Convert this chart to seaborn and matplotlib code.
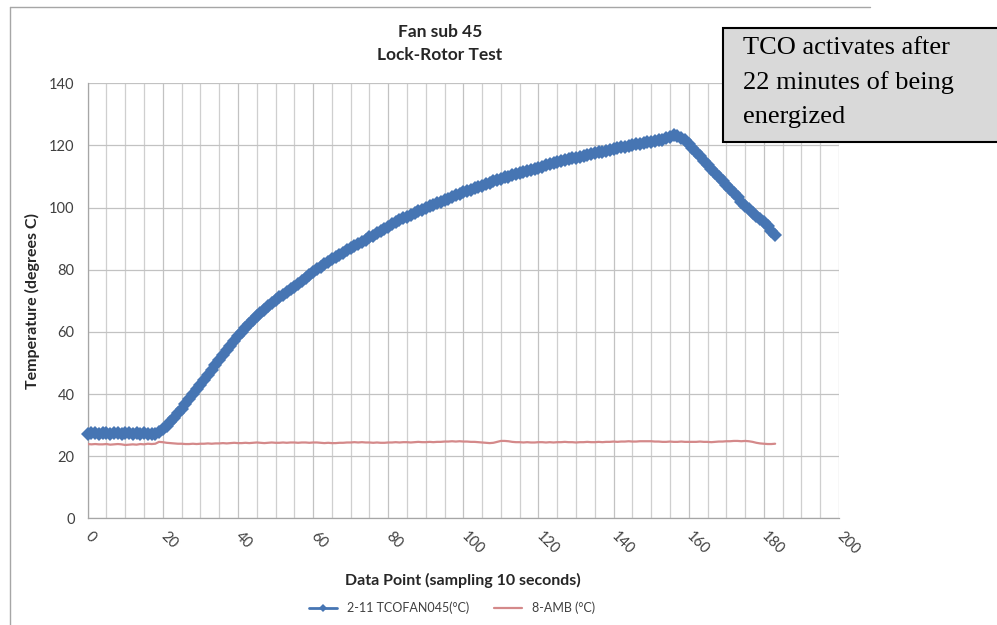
import pandas as pd
import seaborn as sns
import matplotlib.pyplot as plt
from matplotlib.lines import Line2D
from matplotlib.patches import Rectangle

# Data (one sample every 10 s)
data_point = list(range(184))

tco_fan = [
    27.2, 27.4, 27.3, 27.1, 27.3, 27.4, 27.2, 27.3, 27.3, 27.2, 27.4, 27.3, 27.2, 27.3, 27.1, 27.3, 27.2, 27.0, 27.2,
    27.8, 28.7, 29.8, 31.0, 32.3, 33.8, 35.3, 36.8, 38.4, 39.9, 41.5, 43.0,
    44.5, 46.1, 47.7, 49.3, 50.9, 52.5, 54.1, 55.6, 57.1, 58.6,
    59.9, 61.2, 62.5, 63.8, 65.0, 66.1, 67.1, 68.2, 69.2, 70.1,
    71.1, 72.0, 72.9, 73.8, 74.6, 75.4, 76.3, 77.3, 78.3, 79.3,
    80.1, 80.9, 81.7, 82.5, 83.4, 84.1, 84.8, 85.5, 86.2, 86.9,
    87.6, 88.3, 89.0, 89.7, 90.4, 91.0, 91.7, 92.5, 93.2, 93.9,
    94.6, 95.2, 95.9, 96.5, 97.1, 97.7, 98.3, 98.8, 99.3, 99.9,
    100.4, 100.9, 101.4, 101.9, 102.4, 102.9, 103.4, 103.9, 104.4, 104.9,
    105.3, 105.8, 106.2, 106.7, 107.1, 107.6, 108.0, 108.4, 108.9, 109.3,
    109.7, 110.0, 110.4, 110.8, 111.1, 111.5, 111.8, 112.2, 112.5, 112.9,
    113.2, 113.6, 113.9, 114.3, 114.6, 115.0, 115.3, 115.6, 115.9, 116.1,
    116.4, 116.7, 116.9, 117.2, 117.5, 117.8, 118.0, 118.3, 118.6, 118.8,
    119.1, 119.4, 119.6, 119.9, 120.2, 120.4, 120.6, 120.8, 121.0, 121.2,
    121.4, 121.6, 121.9, 122.3, 122.8, 123.2, 122.9, 122.3, 121.6, 120.5,
    119.2, 117.8, 116.5, 115.1, 113.8, 112.4, 111.0, 109.8, 108.6, 107.4,
    106.1, 104.7, 103.3, 101.8, 100.6, 99.5, 98.3, 97.3, 96.2, 95.2,
    94.0, 92.5, 91.1,
]

amb = [
    23.9, 23.8, 23.9, 23.8, 23.8, 23.9, 23.7, 23.8, 23.9, 23.8, 23.6, 23.7, 23.8, 23.7, 23.9, 23.8, 24.0, 23.9, 24.0,
    24.6, 24.5, 24.3, 24.2, 24.1, 24.0, 24.0, 23.9, 23.9, 24.0, 23.9, 24.0,
    24.0, 24.1, 24.0, 24.1, 24.1, 24.2, 24.1, 24.2, 24.3, 24.2,
    24.2, 24.3, 24.2, 24.3, 24.4, 24.3, 24.2, 24.3, 24.4, 24.3,
    24.3, 24.4, 24.3, 24.4, 24.4, 24.3, 24.4, 24.4, 24.3, 24.4,
    24.4, 24.3, 24.2, 24.3, 24.2, 24.2, 24.3, 24.3, 24.4, 24.4,
    24.5, 24.4, 24.5, 24.4, 24.4, 24.3, 24.4, 24.3, 24.3, 24.4,
    24.4, 24.5, 24.4, 24.5, 24.5, 24.4, 24.5, 24.6, 24.5, 24.5,
    24.6, 24.5, 24.6, 24.6, 24.7, 24.7, 24.8, 24.7, 24.8, 24.7,
    24.7, 24.6, 24.6, 24.5, 24.4, 24.3, 24.2, 24.3, 24.6, 24.9,
    24.9, 24.8, 24.6, 24.5, 24.5, 24.4, 24.5, 24.4, 24.4, 24.5,
    24.5, 24.4, 24.5, 24.4, 24.5, 24.5, 24.6, 24.5, 24.5, 24.4,
    24.5, 24.5, 24.6, 24.5, 24.5, 24.6, 24.5, 24.6, 24.6, 24.7,
    24.6, 24.7, 24.7, 24.8, 24.7, 24.7, 24.8, 24.8, 24.8, 24.8,
    24.7, 24.7, 24.6, 24.6, 24.7, 24.6, 24.6, 24.7, 24.6, 24.6,
    24.6, 24.6, 24.7, 24.6, 24.6, 24.5, 24.6, 24.7, 24.7, 24.8,
    24.8, 24.9, 24.9, 24.8, 24.9, 24.8, 24.6, 24.3, 24.1, 24.0,
    23.9, 23.9, 24.0,
]

series_names = ['2-11 TCOFAN045(°C)', '8-AMB (°C)']
x_ticks = list(range(0, 201, 20))
y_ticks = list(range(0, 141, 20))

df = pd.DataFrame({'Data Point': data_point, series_names[0]: tco_fan, series_names[1]: amb})

sns.set_style('white')
plt.rcParams['font.family'] = ['Lato', 'DejaVu Sans']

W, H = 997, 625
fig = plt.figure(figsize=(W / 100, H / 100), dpi=100)
ax = fig.add_axes([87.7 / W, 1 - 518.3 / H, (839 - 87.7) / W, (518.3 - 83.3) / H])

sns.lineplot(data=df, x='Data Point', y=series_names[0], ax=ax, color='#4675b3', lw=2,
             marker='D', markersize=7, markeredgewidth=0, label=series_names[0], clip_on=False, zorder=4)
sns.lineplot(data=df, x='Data Point', y=series_names[1], ax=ax, color='#d4898a', lw=1.6,
             label=series_names[1], zorder=3)

ax.set_xlim(0, 200)
ax.set_ylim(0, 140)
ax.set_xticks(x_ticks)
ax.set_xticks(range(0, 201, 5), minor=True)
ax.set_yticks(y_ticks)
ax.grid(which='major', axis='both', color='#c2c2c2', lw=0.9)
ax.grid(which='minor', axis='x', color='#cfcfcf', lw=0.9)
ax.set_axisbelow(True)
for side in ['top', 'right']:
    ax.spines[side].set_visible(False)
for side in ['left', 'bottom']:
    ax.spines[side].set_color('#a6a6a6')
    ax.spines[side].set_linewidth(0.9)

ax.tick_params(axis='both', which='major', direction='out', length=4.5, width=0.9,
               color='#a6a6a6', labelcolor='#404040', labelsize=10.5)
ax.tick_params(axis='x', which='minor', length=0)
ax.tick_params(axis='x', pad=7)
ax.tick_params(axis='y', pad=5)
for lbl in ax.get_xticklabels():
    lbl.set_rotation(-45)
    lbl.set_ha('left')
    lbl.set_va('center')
    lbl.set_rotation_mode('anchor')

ax.set_xlabel('Data Point (sampling 10 seconds)', fontweight='bold', fontsize=11.5, color='#262626')
ax.set_ylabel('Temperature (degrees C)', fontweight='bold', fontsize=11.5, color='#262626')
ax.xaxis.set_label_coords(0.5, (518.3 - 573) / 435)
ax.yaxis.set_label_coords((40 - 87.7) / 751.3, 0.5)

# title
fig.text(440 / W, 1 - 32 / H, 'Fan sub 45', ha='center', va='center', fontweight='bold', fontsize=12.5, color='#262626')
fig.text(440 / W, 1 - 55 / H, 'Lock-Rotor Test', ha='center', va='center', fontweight='bold', fontsize=12.5, color='#262626')

# legend below the plot
handles, labels = ax.get_legend_handles_labels()
ax.get_legend().remove()
fig.legend(handles, labels, loc='center', bbox_to_anchor=(452 / W, 1 - 608 / H), ncol=2,
           frameon=False, fontsize=9, handlelength=2.2, columnspacing=2.0, labelcolor='#404040',
           markerscale=0.6)

# chart area border (top and left visible)
fig.add_artist(Line2D([10 / W, 870 / W], [1 - 7 / H, 1 - 7 / H], transform=fig.transFigure, color='#a6a6a6', lw=1))
fig.add_artist(Line2D([10 / W, 10 / W], [1 - 7 / H, 0], transform=fig.transFigure, color='#a6a6a6', lw=1))

# annotation box
fig.add_artist(Rectangle((723 / W, 1 - 141.7 / H), 0.3, 113.4 / H, transform=fig.transFigure,
                         facecolor='#d9d9d9', edgecolor='black', lw=1.5, zorder=5))
fig.text(743 / W, 1 - 37 / H, 'TCO activates after\n22 minutes of being\nenergized',
         family=['Liberation Serif', 'DejaVu Serif'], fontsize=19, ha='left', va='top',
         linespacing=1.68, color='black', zorder=6)

fig.savefig('out.png', dpi=100)
